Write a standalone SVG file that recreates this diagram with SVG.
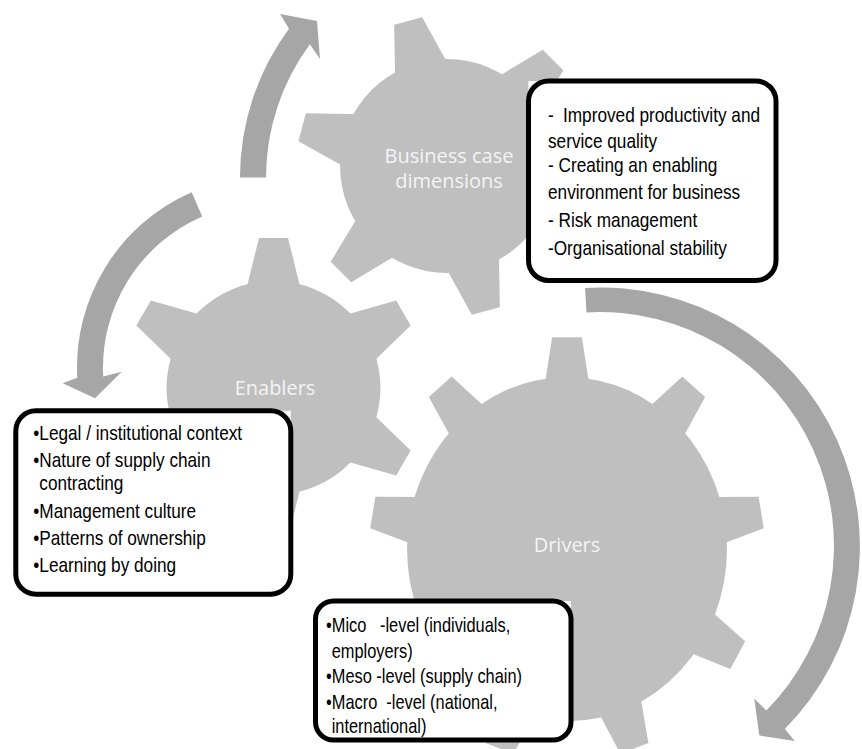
<svg xmlns="http://www.w3.org/2000/svg" xmlns:xlink="http://www.w3.org/1999/xlink" width="862" height="749" viewBox="0 0 862 749">
<style>
.gear{fill:#bfbfbf}
.glabel{font-family:"Open Sans","Liberation Sans",sans-serif;font-size:20px;fill:#f4f4f4;text-anchor:middle}
.arrow{fill:#a6a6a6}
.boxbg{fill:#ffffff}
.box{fill:none;stroke:#000000;stroke-width:5}
.bt{font-family:"Liberation Sans",Arial,sans-serif;font-size:21px;fill:#000000;white-space:pre}
.bt20{font-size:20px}
</style>
<defs>
<polygon id="t6" points="-28.2,-95 -14.5,-150 14.5,-150 28.2,-95"/>
<polygon id="t9" points="-24.4,-162 -16,-212 16,-212 24.4,-162"/>
</defs>
<rect width="862" height="749" fill="#ffffff"/>

<g id="gear-business">
<g class="gear" transform="translate(447,166)">
<circle r="107"/>
<use href="#t6" xlink:href="#t6" transform="rotate(-15)"/>
<use href="#t6" xlink:href="#t6" transform="rotate(45)"/>
<use href="#t6" xlink:href="#t6" transform="rotate(105)"/>
<use href="#t6" xlink:href="#t6" transform="rotate(165)"/>
<use href="#t6" xlink:href="#t6" transform="rotate(225)"/>
<use href="#t6" xlink:href="#t6" transform="rotate(285)"/>
</g>
<text class="glabel" x="449" y="163">Business case</text>
<text class="glabel" x="449" y="188">dimensions</text>
</g>

<g id="gear-enablers">
<g class="gear" transform="translate(273.5,388)">
<circle r="107"/>
<use href="#t6" xlink:href="#t6" transform="rotate(0)"/>
<use href="#t6" xlink:href="#t6" transform="rotate(60)"/>
<use href="#t6" xlink:href="#t6" transform="rotate(120)"/>
<use href="#t6" xlink:href="#t6" transform="rotate(180)"/>
<use href="#t6" xlink:href="#t6" transform="rotate(240)"/>
<use href="#t6" xlink:href="#t6" transform="rotate(300)"/>
</g>
<text class="glabel" x="275" y="395">Enablers</text>
</g>

<g id="gear-drivers">
<g class="gear" transform="translate(567,549.2) scale(0.93,1)">
<circle r="172"/>
<use href="#t9" xlink:href="#t9" transform="rotate(0)"/>
<use href="#t9" xlink:href="#t9" transform="rotate(40)"/>
<use href="#t9" xlink:href="#t9" transform="rotate(80)"/>
<use href="#t9" xlink:href="#t9" transform="rotate(120)"/>
<use href="#t9" xlink:href="#t9" transform="rotate(160)"/>
<use href="#t9" xlink:href="#t9" transform="rotate(200)"/>
<use href="#t9" xlink:href="#t9" transform="rotate(240)"/>
<use href="#t9" xlink:href="#t9" transform="rotate(280)"/>
<use href="#t9" xlink:href="#t9" transform="rotate(320)"/>
</g>
<text class="glabel" x="567" y="552">Drivers</text>
</g>

<g id="connectors">
<path class="arrow" d="M240,177.5 A250,250 0 0 1 289,28.8 L280,14 L317,21 L320,59 L309.9,44.3 A224,224 0 0 0 266,177.5 Z"/>
<path class="arrow" d="M191.7,192.3 A191,191 0 0 0 77.3,377.8 L62.7,383.3 L95,398.3 L121.7,371.7 L103.2,376.4 A165,165 0 0 1 202.2,216.5 Z"/>
<path class="arrow" d="M585,288 A259,259 0 0 1 784.8,728.9 L794.8,740.9 L759.3,735.6 L754.3,698.6 L766.3,710.6 A234,234 0 0 0 586.5,312.4 Z"/>
</g>

<g id="box-business">
<rect class="boxbg" x="528.5" y="81" width="247.5" height="199.5"/>
<rect class="box" x="528.5" y="81" width="247.5" height="199.5" rx="20" ry="20"/>
<g transform="scale(0.82,1)">
<text class="bt" x="668.3" y="122">-</text>
<text class="bt" x="686.6" y="122">Improved productivity and</text>
<text class="bt" x="668.3" y="148">service quality</text>
<text class="bt" x="668.3" y="172">- Creating an enabling</text>
<text class="bt" x="668.3" y="199">environment for business</text>
<text class="bt" x="668.3" y="227">- Risk management</text>
<text class="bt" x="668.3" y="255">-Organisational stability</text>
</g>
</g>

<g id="box-enablers">
<rect class="boxbg" x="15.8" y="410.8" width="275" height="183.4"/>
<rect class="box" x="15.8" y="410.8" width="275" height="183.4" rx="20" ry="20"/>
<g transform="scale(0.82,1)">
<text class="bt" x="40.6" y="440">•Legal / institutional context</text>
<text class="bt" x="40.6" y="466.7">•Nature of supply chain</text>
<text class="bt" x="47.9" y="490">contracting</text>
<text class="bt" x="40.6" y="518.3">•Management culture</text>
<text class="bt" x="40.6" y="545">•Patterns of ownership</text>
<text class="bt" x="40.6" y="571.7">•Learning by doing</text>
</g>
</g>

<g id="box-drivers">
<rect class="boxbg" x="315.5" y="601" width="255.5" height="139"/>
<rect class="box" x="315.5" y="601" width="255.5" height="139" rx="18" ry="18"/>
<g transform="scale(0.82,1)">
<text class="bt bt20" xml:space="preserve" x="397.6" y="632">•Mico   -level (individuals,</text>
<text class="bt bt20" x="404.5" y="658">employers)</text>
<text class="bt bt20" xml:space="preserve" x="397.6" y="683">•Meso -level (supply chain)</text>
<text class="bt bt20" xml:space="preserve" x="397.6" y="709">•Macro  -level (national,</text>
<text class="bt bt20" x="404.5" y="733">international)</text>
</g>
</g>
</svg>
